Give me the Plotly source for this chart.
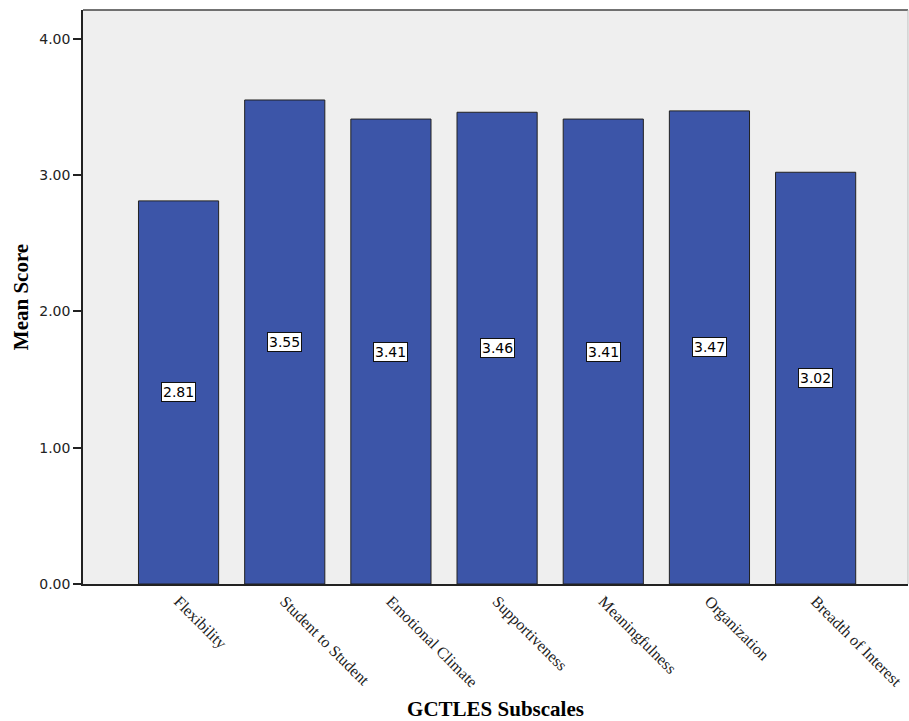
import plotly.graph_objects as go

categories = ["Flexibility", "Student to Student", "Emotional Climate", "Supportiveness",
              "Meaningfulness", "Organization", "Breadth of Interest"]
means = [2.81, 3.55, 3.41, 3.46, 3.41, 3.47, 3.02]
ytick_vals = [0, 1, 2, 3, 4]
ytick_text = ["0.00", "1.00", "2.00", "3.00", "4.00"]

xpos = list(range(len(categories)))

fig = go.Figure()
fig.add_trace(go.Bar(
    x=xpos, y=means, width=0.755,
    marker=dict(color="#3C55A8", line=dict(color="#222222", width=1)),
    hoverinfo="skip",
))

for xi, v in zip(xpos, means):
    fig.add_annotation(
        x=xi, y=v / 2, text=f"{v:.2f}", showarrow=False,
        bgcolor="white", bordercolor="#111111", borderwidth=1, borderpad=1,
        font=dict(family="DejaVu Sans", size=14, color="black"),
    )

fig.update_layout(
    width=909, height=721,
    margin=dict(l=83, r=1, t=10, b=137),
    paper_bgcolor="white", plot_bgcolor="#EFEFEF",
    showlegend=False,
    xaxis=dict(
        range=[-0.9, 6.87], tickmode="array", tickvals=xpos, ticktext=categories,
        tickangle=45, ticks="", showgrid=False, zeroline=False,
        showline=True, linecolor="#222222", linewidth=1.5,
        tickfont=dict(family="Liberation Serif", size=16, color="#222222"),
        title=dict(text="<b>GCTLES Subscales</b>", standoff=14,
                   font=dict(family="Liberation Serif", size=21, color="black")),
    ),
    yaxis=dict(
        range=[0, 4.21], tickmode="array", tickvals=ytick_vals, ticktext=ytick_text,
        ticks="outside", ticklen=8, tickcolor="#222222", tickwidth=1.5,
        showgrid=False, zeroline=False,
        showline=True, linecolor="#222222", linewidth=1.5,
        tickfont=dict(family="DejaVu Sans", size=14, color="#222222"),
        title=dict(text="<b>Mean Score</b>", standoff=5,
                   font=dict(family="Liberation Serif", size=21, color="black")),
    ),
    shapes=[
        dict(type="line", xref="paper", yref="paper", x0=0, x1=1, y0=1, y1=1,
             line=dict(color="#444444", width=1.5)),
        dict(type="line", xref="paper", yref="paper", x0=1, x1=1, y0=0, y1=1,
             line=dict(color="#BBBBBB", width=1)),
    ],
)

fig.write_html("out.html")
